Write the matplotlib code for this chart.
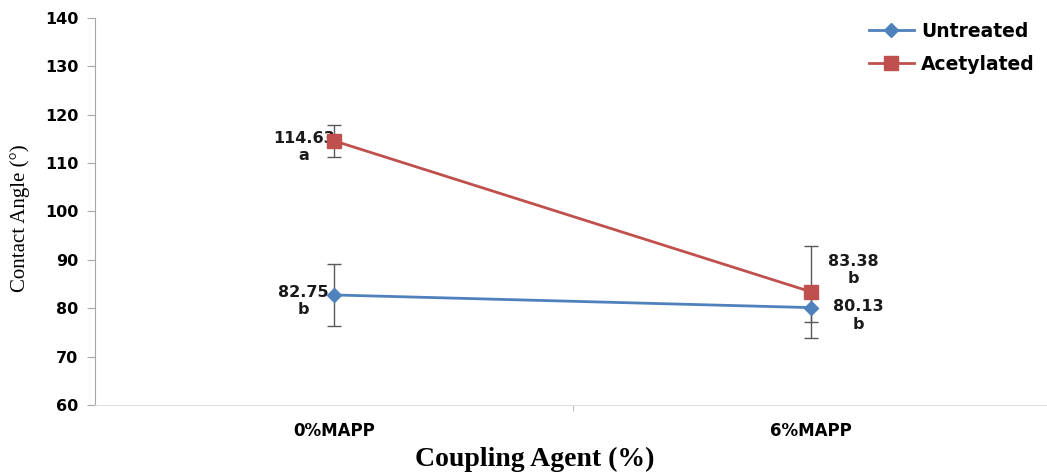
import matplotlib.pyplot as plt

categories = ["0%MAPP", "6%MAPP"]
untreated = [82.75, 80.13]
untreated_err = [6.5, 3.0]
acetylated = [114.63, 83.38]
acetylated_err = [3.3, 9.5]
untreated_letters = ["b", "b"]
acetylated_letters = ["a", "b"]

blue = "#4F81BD"
red = "#C0504D"

fig = plt.figure(figsize=(10.47, 4.74), dpi=100)
ax = fig.add_axes([95 / 1047, 1 - 405 / 474, 955 / 1047, 387 / 474])

x = [0.5, 1.5]
ax.errorbar(x, untreated, yerr=untreated_err, color=blue, lw=2, marker="D",
            markersize=7, ecolor="#595959", elinewidth=1, capsize=5, capthick=1,
            label="Untreated", zorder=3)
ax.errorbar(x, acetylated, yerr=acetylated_err, color=red, lw=2, marker="s",
            markersize=10, ecolor="#595959", elinewidth=1, capsize=5, capthick=1,
            label="Acetylated", zorder=3)

# data labels
lab = dict(fontsize=11.5, fontweight="bold", ha="center", va="center",
           textcoords="offset pixels", linespacing=1.2, color="#1a1a1a")
ax.annotate(f"{acetylated[0]:.2f}\n{acetylated_letters[0]}", (x[0], acetylated[0]),
            xytext=(-30, -6), **lab)
ax.annotate(f"{untreated[0]:.2f}\n{untreated_letters[0]}", (x[0], untreated[0]),
            xytext=(-30, -6), **lab)
ax.annotate(f"{acetylated[1]:.2f}\n{acetylated_letters[1]}", (x[1], acetylated[1]),
            xytext=(42, 22), **lab)
ax.annotate(f"{untreated[1]:.2f}\n{untreated_letters[1]}", (x[1], untreated[1]),
            xytext=(47, -8), **lab)

ax.set_xlim(0, 2)
ax.set_ylim(60, 140)
ax.set_yticks(range(60, 141, 10))
ax.set_xticks([1])
ax.set_xticklabels([""])
ax.tick_params(axis="x", length=4, color="#bfbfbf", direction="out")
ax.tick_params(axis="y", length=6, color="#a6a6a6", labelsize=11.5, pad=6)
for t in ax.get_yticklabels():
    t.set_fontweight("bold")
for xi, c in zip(x, categories):
    ax.text(xi, -0.045, c, transform=ax.get_xaxis_transform(), ha="center",
            va="top", fontsize=12, fontweight="bold")

for s in ["top", "right"]:
    ax.spines[s].set_visible(False)
ax.spines["left"].set_color("#a6a6a6")
ax.spines["bottom"].set_color("#e0e0e0")

fig.text(20 / 1047, 1 - 218 / 474, "Contact Angle (°)", rotation=90,
         ha="center", va="center", fontsize=15, family="Liberation Serif")
fig.text(535 / 1047, 1 - 459 / 474, "Coupling Agent (%)", ha="center",
         va="center", fontsize=20, fontweight="bold", family="Liberation Serif")

h, l = ax.get_legend_handles_labels()
h = [hh[0] for hh in h]
fig.legend(h, l, loc="upper left", bbox_to_anchor=(852 / 1047, 1 - 5 / 474),
           frameon=False, prop=dict(size=13.5, weight="bold"), handlelength=2.4,
           labelspacing=0.75, handletextpad=0.4)

fig.savefig("out.png", dpi=100)
